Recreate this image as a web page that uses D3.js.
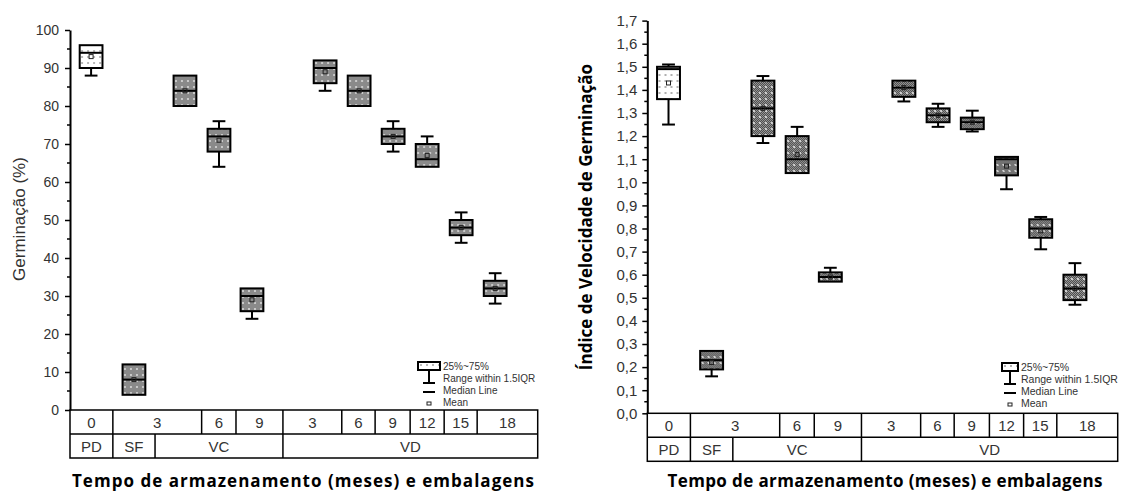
<!DOCTYPE html>
<html>
<head>
<meta charset="utf-8">
<script src="https://cdn.jsdelivr.net/npm/d3@7"></script>
<style>
  body { margin: 0; background: #fff; }
  svg { display: block; }
  svg text { font-family: "Liberation Sans", Arial, sans-serif; }
  svg text.bold { font-family: "Open Sans", sans-serif; font-weight: bold; }
</style>
</head>
<body>
<div id="chart"></div>
<script>
// one box per treatment: months of storage, packaging, x slot of the box
const months = ["0", "3", "3", "6", "9", "3", "6", "9", "12", "15", "18"];
const packs = ["PD", "SF", "VC", "VC", "VC", "VD", "VD", "VD", "VD", "VD", "VD"];
const xSlot = [0.62, 1.88, 3.38, 4.38, 5.35, 7.5, 8.5, 9.5, 10.5, 11.5, 12.5];

// germination (%)
const germLo = [88, 4, 80, 64, 24, 84, 80, 68, 64, 44, 28];
const germQ1 = [90, 4, 80, 68, 26, 86, 80, 70, 64, 46, 30];
const germMed = [94, 8, 84, 72, 30, 90, 84, 72, 66, 48, 32];
const germQ3 = [96, 12, 88, 74, 32, 92, 88, 74, 70, 50, 34];
const germHi = [96, 12, 88, 76, 32, 92, 88, 76, 72, 52, 36];
const germMean = [93, 8, 84, 71, 29, 89, 84, 72, 67, 48, 32];

// germination speed index
const ivgLo = [1.25, 0.16, 1.17, 1.04, 0.57, 1.35, 1.24, 1.22, 0.97, 0.71, 0.47];
const ivgQ1 = [1.36, 0.19, 1.20, 1.04, 0.57, 1.37, 1.26, 1.23, 1.03, 0.76, 0.49];
const ivgMed = [1.49, 0.23, 1.32, 1.10, 0.59, 1.41, 1.29, 1.26, 1.10, 0.80, 0.54];
const ivgQ3 = [1.50, 0.27, 1.44, 1.20, 0.61, 1.44, 1.32, 1.28, 1.11, 0.84, 0.60];
const ivgHi = [1.51, 0.27, 1.46, 1.24, 0.63, 1.44, 1.34, 1.31, 1.11, 0.85, 0.65];
const ivgMean = [1.43, 0.22, 1.32, 1.12, 0.59, 1.41, 1.29, 1.26, 1.07, 0.79, 0.54];

// table under the x axis (bounds in x slot units)
const monthCells = [["0", 0, 1.26], ["3", 1.26, 3.87], ["6", 3.87, 4.88], ["9", 4.88, 6.26],
  ["3", 6.26, 7.99], ["6", 7.99, 8.97], ["9", 8.97, 10], ["12", 10, 11], ["15", 11, 11.97], ["18", 11.97, 13.75]];
const packCells = [["PD", 0, 1.26], ["SF", 1.26, 2.5], ["VC", 2.5, 6.26], ["VD", 6.26, 13.75]];

const legendItems = ["25%~75%", "Range within 1.5IQR", "Median Line", "Mean"];
const xTitle = "Tempo de armazenamento (meses) e embalagens";

const W = 1121, H = 493;
const svg = d3.select("#chart").append("svg").attr("width", W).attr("height", H);

const defs = svg.append("defs");
function dotPattern(id, bg, dot) {
  const p = defs.append("pattern").attr("id", id).attr("patternUnits", "userSpaceOnUse")
    .attr("width", 6).attr("height", 6);
  p.append("rect").attr("width", 6).attr("height", 6).attr("fill", bg);
  p.append("rect").attr("x", 2).attr("y", 2).attr("width", 2).attr("height", 2).attr("fill", dot);
}
function checkPattern(id, a, b, dot) {
  const p = defs.append("pattern").attr("id", id).attr("patternUnits", "userSpaceOnUse")
    .attr("width", 6).attr("height", 6);
  p.append("rect").attr("width", 6).attr("height", 6).attr("fill", a);
  for (let i = 0; i < 6; i += 2)
    for (let j = 0; j < 6; j += 2) {
      p.append("rect").attr("x", i).attr("y", j).attr("width", 1).attr("height", 1).attr("fill", b);
      p.append("rect").attr("x", i + 1).attr("y", j + 1).attr("width", 1).attr("height", 1).attr("fill", b);
    }
  p.append("rect").attr("x", 2).attr("y", 2).attr("width", 2).attr("height", 2).attr("fill", dot);
}
dotPattern("pdL", "#ffffff", "#b8b8b8");
dotPattern("grL", "#8a8a8a", "#c9c9c9");
dotPattern("pdR", "#ffffff", "#b0b0b0");
checkPattern("grR", "#9a9a9a", "#4a4a4a", "#d0d0d0");

function drawPanel(o) {
  const g = svg.append("g");
  const x = d3.scaleLinear().domain([0, 13.75]).range([o.x0, o.x1]);
  const y = d3.scaleLinear().domain([0, o.yMax]).range([o.yBottom, o.yTop]);
  const unit = x(1) - x(0);
  const bw = 0.67 * unit;

  // y axis
  const ax = g.append("g").attr("transform", `translate(${o.x0},0)`)
    .call(d3.axisLeft(y).tickValues(d3.range(0, o.yMax + o.step / 2, o.step))
      .tickFormat(o.fmt).tickSize(5).tickSizeOuter(0));
  ax.attr("font-family", null);
  ax.select(".domain").attr("stroke-width", 2);
  ax.selectAll(".tick line").attr("stroke-width", 1.5);
  ax.selectAll(".tick text").attr("font-size", o.tickSize).attr("fill", "#333")
    .attr("x", -o.tickGap);
  g.append("g").attr("transform", `translate(${o.x0},0)`)
    .selectAll("line").data(d3.range(o.step / 2, o.yMax, o.step)).join("line")
    .attr("x1", -3).attr("x2", 0).attr("y1", d => y(d)).attr("y2", d => y(d))
    .attr("stroke", "#000").attr("stroke-width", 1.5);

  // boxes
  const data = xSlot.map((s, i) => ({
    s, lo: o.lo[i], q1: o.q1[i], med: o.med[i], q3: o.q3[i], hi: o.hi[i], mean: o.mean[i], i
  }));
  const b = g.append("g").selectAll("g").data(data).join("g")
    .attr("transform", d => `translate(${x(d.s)},0)`);
  b.append("line").attr("y1", d => y(d.hi)).attr("y2", d => y(d.q3))
    .attr("stroke", "#000").attr("stroke-width", 2);
  b.append("line").attr("y1", d => y(d.lo)).attr("y2", d => y(d.q1))
    .attr("stroke", "#000").attr("stroke-width", 2);
  b.filter(d => d.hi > d.q3).append("line").attr("x1", -bw * 0.28).attr("x2", bw * 0.28)
    .attr("y1", d => y(d.hi)).attr("y2", d => y(d.hi)).attr("stroke", "#000").attr("stroke-width", 2);
  b.filter(d => d.lo < d.q1).append("line").attr("x1", -bw * 0.28).attr("x2", bw * 0.28)
    .attr("y1", d => y(d.lo)).attr("y2", d => y(d.lo)).attr("stroke", "#000").attr("stroke-width", 2);
  b.append("rect").attr("x", -bw / 2).attr("width", bw)
    .attr("y", d => y(d.q3)).attr("height", d => y(d.q1) - y(d.q3))
    .attr("fill", d => d.i === 0 ? `url(#${o.pd})` : `url(#${o.gr})`)
    .attr("stroke", "#000").attr("stroke-width", 2);
  b.append("line").attr("x1", -bw / 2).attr("x2", bw / 2)
    .attr("y1", d => y(d.med)).attr("y2", d => y(d.med)).attr("stroke", "#000").attr("stroke-width", 2);
  b.append("rect").attr("x", -2).attr("width", 4)
    .attr("y", d => y(d.mean) - 2).attr("height", 4)
    .attr("fill", "none").attr("stroke", "#222").attr("stroke-width", 1);

  // table of months / packaging
  const rowH = 24;
  const t = g.append("g").attr("stroke", "#000").attr("stroke-width", 1.5);
  t.append("rect").attr("x", o.x0).attr("y", o.yBottom).attr("width", o.x1 - o.x0)
    .attr("height", rowH * 2).attr("fill", "none");
  t.append("line").attr("x1", o.x0).attr("x2", o.x1)
    .attr("y1", o.yBottom + rowH).attr("y2", o.yBottom + rowH);
  t.selectAll(".m").data(monthCells.slice(1)).join("line")
    .attr("x1", d => x(d[1])).attr("x2", d => x(d[1]))
    .attr("y1", o.yBottom).attr("y2", o.yBottom + rowH);
  t.selectAll(".p").data(packCells.slice(1)).join("line")
    .attr("x1", d => x(d[1])).attr("x2", d => x(d[1]))
    .attr("y1", o.yBottom + rowH).attr("y2", o.yBottom + rowH * 2);
  g.append("g").selectAll("text").data(monthCells).join("text")
    .attr("x", d => x((d[1] + d[2]) / 2)).attr("y", o.yBottom + 17.5)
    .attr("text-anchor", "middle").attr("font-size", 15).attr("fill", "#333").text(d => d[0]);
  g.append("g").selectAll("text").data(packCells).join("text")
    .attr("x", d => x((d[1] + d[2]) / 2)).attr("y", o.yBottom + rowH + 17.5)
    .attr("text-anchor", "middle").attr("font-size", 15).attr("fill", "#333").text(d => d[0]);

  // legend
  const lw = o.legW, mid = lw / 2;
  const lg = g.append("g").attr("transform", `translate(${o.legX},${o.legY})`);
  lg.append("rect").attr("x", 0).attr("y", 0).attr("width", lw).attr("height", 8)
    .attr("fill", `url(#${o.pd})`).attr("stroke", "#000").attr("stroke-width", 2);
  lg.append("line").attr("x1", mid).attr("x2", mid).attr("y1", 8).attr("y2", 21).attr("stroke", "#000").attr("stroke-width", 2);
  lg.append("line").attr("x1", mid - 6).attr("x2", mid + 6).attr("y1", 21).attr("y2", 21).attr("stroke", "#000").attr("stroke-width", 2);
  lg.append("line").attr("x1", mid - 6).attr("x2", mid + 6).attr("y1", 30).attr("y2", 30).attr("stroke", "#000").attr("stroke-width", 2);
  lg.append("rect").attr("x", mid - 2).attr("y", 40).attr("width", 4).attr("height", 3)
    .attr("fill", "none").attr("stroke", "#222").attr("stroke-width", 1);
  lg.selectAll("text").data(legendItems).join("text")
    .attr("x", lw + 3).attr("y", (d, i) => 8 + i * 12)
    .attr("font-size", o.legFont).attr("fill", "#333").text(d => d);

  // axis titles
  g.append("text").attr("class", o.yLabBold ? "bold" : null)
    .attr("transform", `translate(${o.yLabX},${o.yLabY}) rotate(-90)`)
    .attr("text-anchor", "middle").attr("font-size", o.yLabSize)
    .attr("fill", o.yLabBold ? "#000" : "#333").text(o.yLabel);
  g.append("text").attr("class", "bold").attr("x", o.titleX).attr("y", 487).attr("text-anchor", "middle")
    .attr("font-size", 17)
    .attr("textLength", o.titleW).attr("lengthAdjust", "spacing")
    .attr("fill", "#000").text(xTitle);
}

drawPanel({
  x0: 70, x1: 537.7, yTop: 30, yBottom: 410, yMax: 100, step: 10, fmt: d3.format("d"),
  tickSize: 14, tickGap: 11,
  lo: germLo, q1: germQ1, med: germMed, q3: germQ3, hi: germHi, mean: germMean,
  pd: "pdL", gr: "grL", legX: 418, legY: 362, legW: 22, legFont: 10,
  yLabel: "Germinação (%)", yLabX: 25, yLabY: 219, yLabSize: 17, yLabBold: false,
  titleX: 303, titleW: 462
});

drawPanel({
  x0: 647.3, x1: 1117.7, yTop: 20.6, yBottom: 413.3, yMax: 1.7, step: 0.1,
  fmt: d => d3.format(".1f")(d).replace(".", ","),
  tickSize: 15, tickGap: 10,
  lo: ivgLo, q1: ivgQ1, med: ivgMed, q3: ivgQ3, hi: ivgHi, mean: ivgMean,
  pd: "pdR", gr: "grR", legX: 1002, legY: 363, legW: 16, legFont: 10.5,
  yLabel: "Índice de Velocidade de Germinação", yLabX: 592, yLabY: 217, yLabSize: 17, yLabBold: true,
  titleX: 885, titleW: 435
});
</script>
</body>
</html>
